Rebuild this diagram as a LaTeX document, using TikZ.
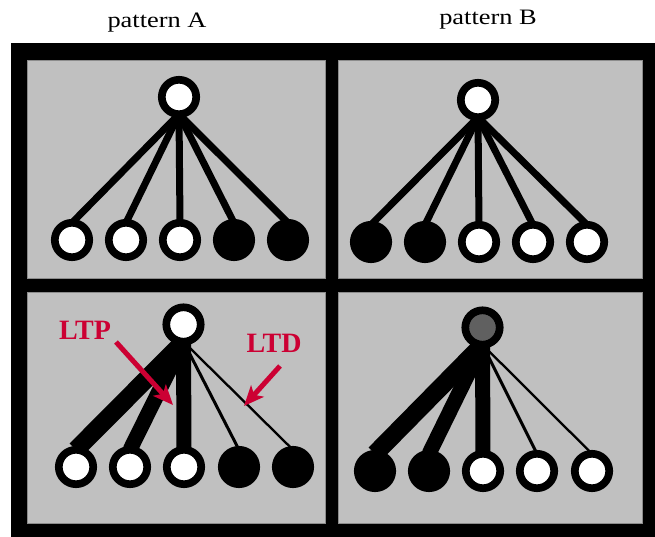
\documentclass[tikz,border=0pt]{standalone}
\usepackage{fontspec}
\setmainfont{Liberation Serif}
\usepackage{xcolor}
\definecolor{plasred}{RGB}{204,0,51}
\definecolor{panelgray}{RGB}{192,192,192}
\definecolor{somagray}{RGB}{96,96,96}
\usetikzlibrary{arrows.meta}
\pgfdeclarelayer{frame}
\pgfdeclarelayer{background}
\pgfsetlayers{frame,background,main}

\begin{document}
\begin{tikzpicture}[x=1pt, y=-1pt,
    panel/.style={fill=panelgray, draw=black!45, line width=0.6pt},
    unit/.style={circle, draw=black, line width=7.7pt, minimum size=34.4pt,
                 inner sep=0pt, outer sep=0pt},
    title/.style={font=\fontsize{22}{26}\selectfont, xscale=1.2, anchor=base},
    plaslabel/.style={font=\bfseries\fontsize{28}{32}\selectfont, text=plasred, anchor=base},
    plasarrow/.style={plasred, line width=5pt, -{Stealth[length=20pt, width=17pt, inset=5pt]}}]
  \useasboundingbox (0,0) rectangle (655,537);

  % Titles
  \node[title] (titleA) at (157,28) {pattern A};
  \node[title] (titleB) at (488,25) {pattern B};

  % Frame and panels
  \begin{pgfonlayer}{frame}
    \fill[black] (11,43) rectangle (655,537);
    \draw[panel] (27.5,60) rectangle (325,278);
    \draw[panel] (338,60) rectangle (642,278);
    \draw[panel] (27.5,292) rectangle (325,523);
    \draw[panel] (338,292) rectangle (642,523);
  \end{pgfonlayer}

  % Top left: before, pattern A
  \node[unit, fill=white] (pa) at (179,97) {};
  \foreach \i/\x/\f in {1/72/white, 2/126/white, 3/180/white, 4/234/black, 5/288/black} {
      \node[unit, fill=\f] (pa\i) at (\x,240) {};
  }
  \begin{pgfonlayer}{background}
    \foreach \i in {1,...,5} {
        \draw[line width=7pt] (pa.south) -- (pa\i.north);
    }
  \end{pgfonlayer}

  % Top right: before, pattern B
  \node[unit, fill=white] (pb) at (478,100) {};
  \foreach \i/\x/\f in {1/371/black, 2/425/black, 3/479/white, 4/533/white, 5/587/white} {
      \node[unit, fill=\f] (pb\i) at (\x,242) {};
  }
  \begin{pgfonlayer}{background}
    \foreach \i in {1,...,5} {
        \draw[line width=7pt] (pb.south) -- (pb\i.north);
    }
  \end{pgfonlayer}

  % Bottom left: after, pattern A
  \node[unit, fill=white] (qa) at (183.5,324.5) {};
  \foreach \i/\x/\f in {1/76/white, 2/130/white, 3/184/white, 4/239/black, 5/293/black} {
      \node[unit, fill=\f] (qa\i) at (\x,467) {};
  }
  \begin{pgfonlayer}{background}
    \foreach \i/\w in {1/18, 2/15, 3/15, 4/3, 5/2.3} {
        \draw[line width=\w pt] (qa.south) -- (qa\i.north);
    }
  \end{pgfonlayer}

  % Bottom right: after, pattern B
  \node[unit, fill=somagray] (qb) at (482.5,327.5) {};
  \foreach \i/\x/\f in {1/375/black, 2/429/black, 3/483/white, 4/537/white, 5/592/white} {
      \node[unit, fill=\f] (qb\i) at (\x,471) {};
  }
  \begin{pgfonlayer}{background}
    \foreach \i/\w in {1/18, 2/15, 3/15, 4/3, 5/2.3} {
        \draw[line width=\w pt] (qb.south) -- (qb\i.north);
    }
  \end{pgfonlayer}

  % LTP / LTD labels
  \node[plaslabel] (ltp) at (85,339) {LTP};
  \node[plaslabel] (ltd) at (274,352) {LTD};
  \coordinate (ltpFrom) at (116,342);
  \coordinate (ltpTip) at (173,405);
  \coordinate (ltdFrom) at (280,366);
  \coordinate (ltdTip) at (244,406);
  \draw[plasarrow] (ltpFrom) -- (ltpTip);
  \draw[plasarrow] (ltdFrom) -- (ltdTip);
\end{tikzpicture}
\end{document}
